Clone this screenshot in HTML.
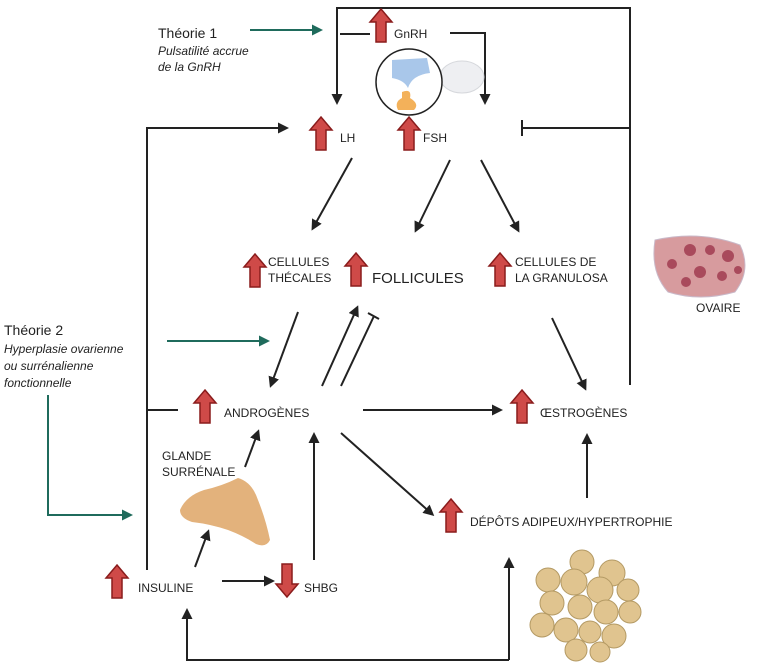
<!DOCTYPE html>
<html><head><meta charset="utf-8"><style>
html,body{margin:0;padding:0;background:#fff;width:758px;height:672px;overflow:hidden}
svg{display:block}
text{font-family:"Liberation Sans",sans-serif;fill:#222;font-size:12px}
.it{font-style:italic}
</style></head><body>
<svg width="758" height="672" viewBox="0 0 758 672" xmlns="http://www.w3.org/2000/svg">
<defs>
<marker id="a" markerWidth="11" markerHeight="11" refX="8" refY="5.5" orient="auto" markerUnits="userSpaceOnUse" viewBox="0 0 11 11"><path d="M0,0 L11,5.5 L0,11 z" fill="#222"/></marker>
<marker id="g" markerWidth="11" markerHeight="11" refX="8" refY="5.5" orient="auto" markerUnits="userSpaceOnUse" viewBox="0 0 11 11"><path d="M0,0 L11,5.5 L0,11 z" fill="#1f6b5c"/></marker>
<g id="up"><polygon points="11,0 22,13 16,13 16,33 6,33 6,13 0,13" fill="#cf4a48" stroke="#8a1c1c" stroke-width="1.5"/></g>
</defs>
<g fill="none" stroke="#222" stroke-width="2">
<polyline points="337,98 337,8 630,8 630,385"/>
<line x1="340" y1="34" x2="370" y2="34"/>
<line x1="337" y1="90" x2="337" y2="102" marker-end="url(#a)"/>
<polyline points="450,33 485,33 485,102" marker-end="url(#a)"/>
<line x1="630" y1="128" x2="523" y2="128"/><line x1="522" y1="120" x2="522" y2="136"/>
<polyline points="147,570 147,128 286,128" marker-end="url(#a)"/>
<line x1="147" y1="410" x2="178" y2="410"/>
<line x1="352" y1="158" x2="313" y2="228" marker-end="url(#a)"/>
<line x1="450" y1="160" x2="416" y2="230" marker-end="url(#a)"/>
<line x1="481" y1="160" x2="518" y2="230" marker-end="url(#a)"/>
<line x1="298" y1="312" x2="271" y2="385" marker-end="url(#a)"/>
<line x1="322" y1="386" x2="357" y2="308" marker-end="url(#a)"/>
<line x1="341" y1="386" x2="374" y2="316"/><line x1="368" y1="313" x2="379" y2="319"/>
<line x1="552" y1="318" x2="585" y2="388" marker-end="url(#a)"/>
<line x1="363" y1="410" x2="500" y2="410" marker-end="url(#a)"/>
<line x1="245" y1="467" x2="258" y2="432" marker-end="url(#a)"/>
<line x1="314" y1="560" x2="314" y2="435" marker-end="url(#a)"/>
<line x1="341" y1="433" x2="432" y2="514" marker-end="url(#a)"/>
<line x1="587" y1="498" x2="587" y2="436" marker-end="url(#a)"/>
<line x1="222" y1="581" x2="272" y2="581" marker-end="url(#a)"/>
<line x1="195" y1="567" x2="208" y2="532" marker-end="url(#a)"/>
<polyline points="509,660 187,660 187,611" marker-end="url(#a)"/>
<line x1="509" y1="660" x2="509" y2="560" marker-end="url(#a)"/>
</g>
<g fill="none" stroke="#1f6b5c" stroke-width="2">
<line x1="250" y1="30" x2="320" y2="30" marker-end="url(#g)"/>
<line x1="167" y1="341" x2="267" y2="341" marker-end="url(#g)"/>
<polyline points="48,395 48,515 130,515" marker-end="url(#g)"/>
</g>
<use href="#up" x="370" y="9"/>
<use href="#up" x="310" y="117"/>
<use href="#up" x="398" y="117"/>
<use href="#up" x="244" y="254"/>
<use href="#up" x="345" y="253"/>
<use href="#up" x="489" y="253"/>
<use href="#up" x="194" y="390"/>
<use href="#up" x="511" y="390"/>
<use href="#up" x="440" y="499"/>
<use href="#up" x="106" y="565"/>
<use href="#up" transform="translate(298,597) rotate(180)"/>
<ellipse cx="462" cy="77" rx="22" ry="16" fill="#eeeff2" stroke="#d6d8dc"/>
<circle cx="409" cy="82" r="33" fill="#fff" stroke="#222" stroke-width="1.5"/>
<path d="M392,60 L427,58 L430,73 Q412,75 408,88 Q404,80 392,78 Z" fill="#a9c7ea"/>
<path d="M402,92 Q412,88 410,98 Q420,104 414,110 L398,110 Q394,102 402,98 Z" fill="#f3b15a"/>
<text x="158" y="38" style="font-size:14px">Théorie 1</text>
<text x="158" y="55" class="it">Pulsatilité accrue</text>
<text x="158" y="71" class="it">de la GnRH</text>
<text x="394" y="38">GnRH</text>
<text x="340" y="142">LH</text>
<text x="423" y="142">FSH</text>
<text x="268" y="266">CELLULES</text>
<text x="268" y="282">THÉCALES</text>
<text x="372" y="283" style="font-size:15px">FOLLICULES</text>
<text x="515" y="266">CELLULES DE</text>
<text x="515" y="282">LA GRANULOSA</text>
<text x="4" y="335" style="font-size:14px">Théorie 2</text>
<text x="4" y="353" class="it">Hyperplasie ovarienne</text>
<text x="4" y="370" class="it">ou surrénalienne</text>
<text x="4" y="387" class="it">fonctionnelle</text>
<text x="224" y="417">ANDROGÈNES</text>
<text x="540" y="417">ŒSTROGÈNES</text>
<text x="162" y="460">GLANDE</text>
<text x="162" y="476">SURRÉNALE</text>
<text x="470" y="526">DÉPÔTS ADIPEUX/HYPERTROPHIE</text>
<text x="138" y="592">INSULINE</text>
<text x="304" y="592">SHBG</text>
<text x="696" y="312">OVAIRE</text>
<path d="M655,240 Q700,230 740,245 Q752,270 735,292 Q700,302 668,292 Q650,272 655,240 Z" fill="#d79b9e" stroke="#c9b8c8"/>
<g fill="#a94a5c"><circle cx="690" cy="250" r="6"/><circle cx="710" cy="250" r="5"/><circle cx="728" cy="256" r="6"/><circle cx="672" cy="264" r="5"/><circle cx="700" cy="272" r="6"/><circle cx="722" cy="276" r="5"/><circle cx="686" cy="282" r="5"/><circle cx="738" cy="270" r="4"/></g>
<path d="M180,510 Q186,496 204,490 Q222,486 238,478 Q252,482 258,500 Q266,520 270,540 Q266,548 256,544 Q244,536 228,530 Q210,524 192,522 Q180,518 180,510 Z" fill="#e3b27c"/>
<g fill="#e0c48f" stroke="#b49a64" stroke-width="1">
<circle cx="582" cy="562" r="12"/><circle cx="612" cy="573" r="13"/><circle cx="548" cy="580" r="12"/><circle cx="574" cy="582" r="13"/><circle cx="600" cy="590" r="13"/><circle cx="628" cy="590" r="11"/><circle cx="552" cy="603" r="12"/><circle cx="580" cy="607" r="12"/><circle cx="606" cy="612" r="12"/><circle cx="630" cy="612" r="11"/><circle cx="542" cy="625" r="12"/><circle cx="566" cy="630" r="12"/><circle cx="590" cy="632" r="11"/><circle cx="614" cy="636" r="12"/><circle cx="576" cy="650" r="11"/><circle cx="600" cy="652" r="10"/>
</g>
</svg>
</body></html>
